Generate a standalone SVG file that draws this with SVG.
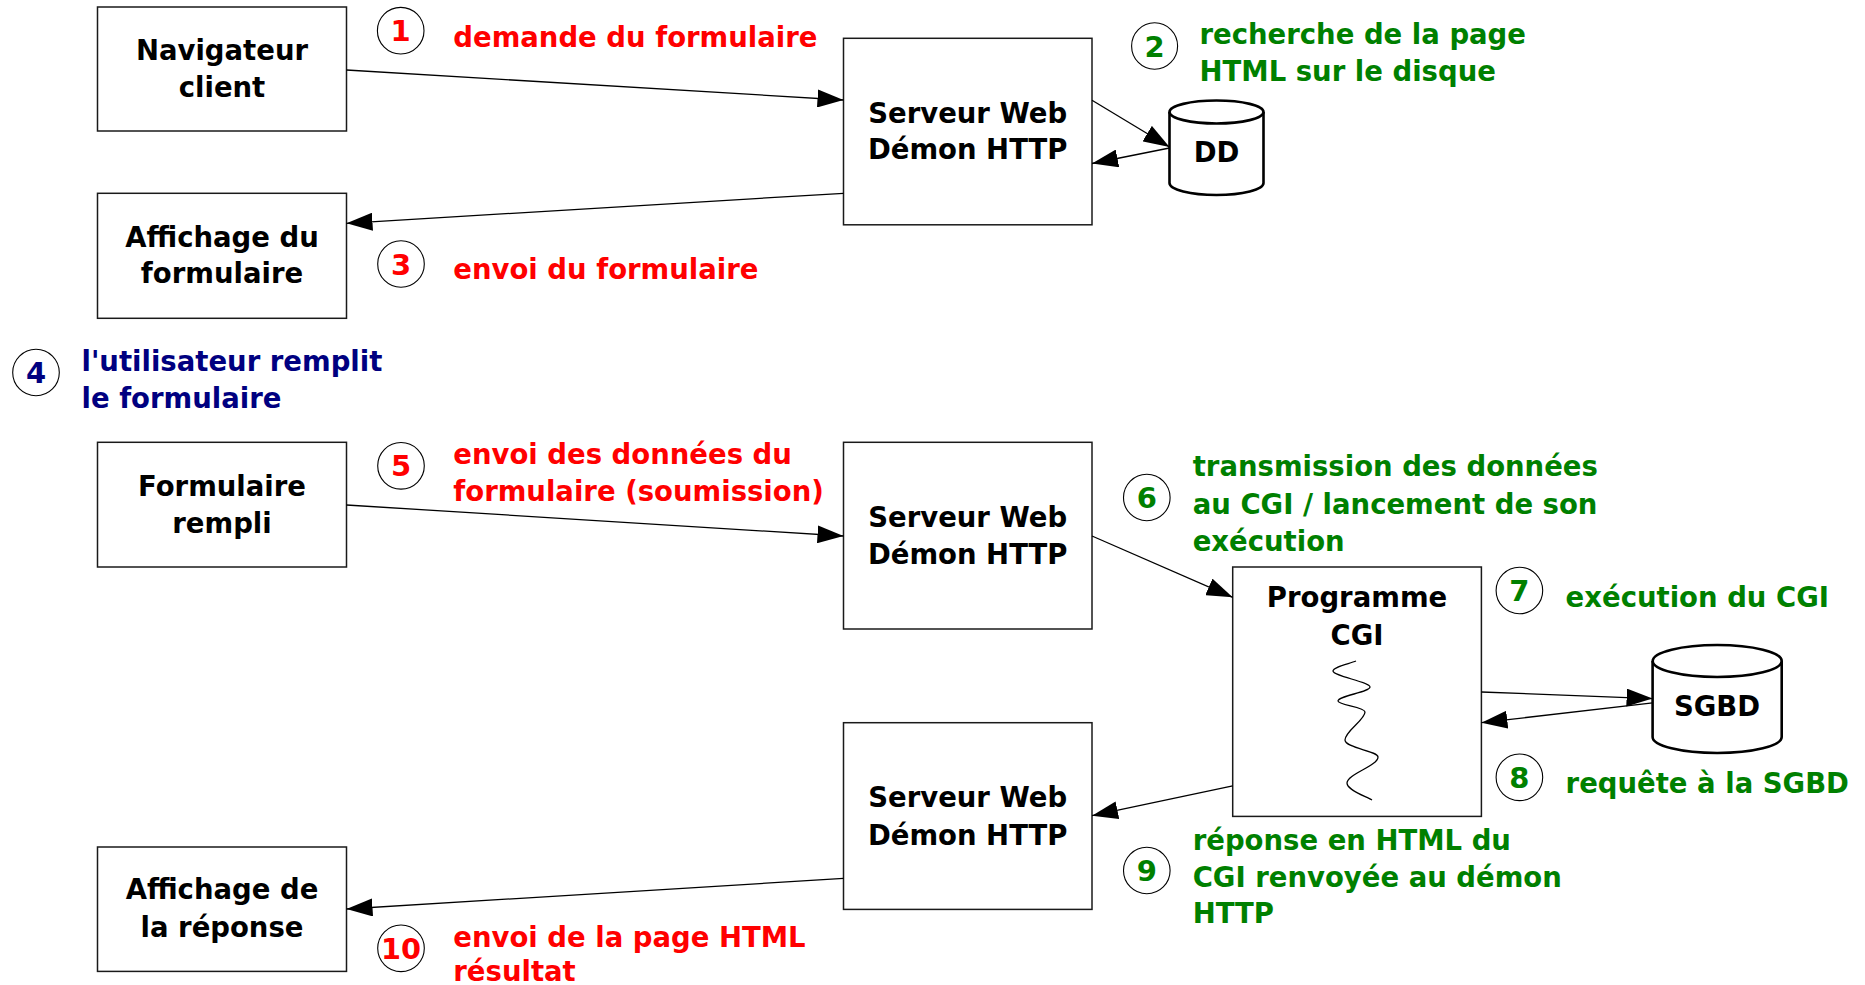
<svg xmlns="http://www.w3.org/2000/svg" width="1865" height="985" viewBox="0 0 1865 985">
<defs>
<style>
text{font-family:"DejaVu Sans","Verdana","Noto Sans",sans-serif;font-weight:bold;font-size:27.5px}
.nt{fill:#000;text-anchor:middle}
.box{fill:#fff;stroke:#1a1a1a;stroke-width:1.5}
.cyl{fill:#fff;stroke:#000;stroke-width:2.6}
.num{fill:none;stroke:#000;stroke-width:1.1}
.r{fill:#ff0000}
.g{fill:#008000}
.b{fill:#000080}
.cn{text-anchor:middle;font-size:29px}
.con line{stroke:#000;stroke-width:1.3;marker-end:url(#ah)}
</style>
<marker id="ah" viewBox="0 0 26 18" refX="26" refY="9" markerWidth="26" markerHeight="18" markerUnits="userSpaceOnUse" orient="auto">
<path d="M0,0 L26,9 L0,18 z" fill="#000"/>
</marker>
</defs>
<rect width="1865" height="985" fill="#fff"/>

<g id="nav"><rect class="box" x="97.5" y="7" width="249" height="124"/>
<text class="nt" x="222" y="60">Navigateur</text><text class="nt" x="222" y="96.7">client</text></g>

<g id="aff1"><rect class="box" x="97.5" y="193.3" width="249" height="125"/>
<text class="nt" x="222" y="246.7">Affichage du</text><text class="nt" x="222" y="283.3">formulaire</text></g>

<g id="srv1"><rect class="box" x="843.5" y="38.3" width="248.5" height="186.5"/>
<text class="nt" x="967.7" y="123.3">Serveur Web</text><text class="nt" x="967.7" y="159.3">Démon HTTP</text></g>

<g id="dd">
<path class="cyl" d="M1169.5,112 L1169.5,183 A47,12 0 0 0 1263.5,183 L1263.5,112"/>
<ellipse class="cyl" cx="1216.5" cy="112" rx="47" ry="11.5"/>
<text class="nt" x="1216.5" y="161.7">DD</text></g>

<g id="form"><rect class="box" x="97.5" y="442.3" width="249" height="124.7"/>
<text class="nt" x="222" y="495.7">Formulaire</text><text class="nt" x="222" y="532.8">rempli</text></g>

<g id="srv2"><rect class="box" x="843.5" y="442.3" width="248.5" height="186.7"/>
<text class="nt" x="967.7" y="527">Serveur Web</text><text class="nt" x="967.7" y="563.7">Démon HTTP</text></g>

<g id="cgi"><rect class="box" x="1232.7" y="567" width="248.7" height="249.4"/>
<text class="nt" x="1357" y="607.4">Programme</text><text class="nt" x="1357" y="645.2">CGI</text>
<path d="M1356,661 C1348,664 1333,667 1333,671 C1333,676 1370,682 1370,687 C1370,692 1338,696 1338,701 C1338,705 1365,707 1365,712 C1365,720 1345,731 1345,740 C1345,748 1378,751 1378,757 C1378,766 1347,774 1347,783 C1347,790 1365,796 1372,800" fill="none" stroke="#000" stroke-width="1.3"/></g>

<g id="sgbd">
<path class="cyl" d="M1652.6,661 L1652.6,737 A64.5,16 0 0 0 1781.7,737 L1781.7,661"/>
<ellipse class="cyl" cx="1717.2" cy="661" rx="64.5" ry="16"/>
<text class="nt" x="1717" y="715.5">SGBD</text></g>

<g id="srv3"><rect class="box" x="843.5" y="722.7" width="248.5" height="186.7"/>
<text class="nt" x="967.7" y="807.4">Serveur Web</text><text class="nt" x="967.7" y="844.5">Démon HTTP</text></g>

<g id="aff2"><rect class="box" x="97.5" y="847" width="249" height="124.4"/>
<text class="nt" x="222" y="899.3">Affichage de</text><text class="nt" x="222" y="937">la réponse</text></g>

<g id="connectors" class="con">
<line x1="346.5" y1="70" x2="843.5" y2="100"/>
<line x1="843.5" y1="193.3" x2="346.5" y2="223.3"/>
<line x1="1092" y1="100.3" x2="1169.5" y2="147"/>
<line x1="1169.5" y1="148" x2="1092" y2="163.5"/>
<line x1="346.5" y1="505" x2="843.5" y2="536"/>
<line x1="1092" y1="536" x2="1232.7" y2="597.3"/>
<line x1="1481.4" y1="692" x2="1652.6" y2="698.6"/>
<line x1="1652.6" y1="702.9" x2="1481.4" y2="722.7"/>
<line x1="1232.7" y1="785.8" x2="1092" y2="815.7"/>
<line x1="843.5" y1="878.4" x2="346.5" y2="909"/>
</g>

<g id="step1"><circle class="num" cx="400.7" cy="30.7" r="23.3"/><text class="r cn" x="400.7" y="41.2">1</text>
<text class="r" x="453.3" y="46.7">demande du formulaire</text></g>

<g id="step2"><ellipse class="num" cx="1154.6" cy="46" rx="23" ry="23.3"/><text class="g cn" x="1154.6" y="56.5">2</text>
<text class="g" x="1199.5" y="44">recherche de la page</text><text class="g" x="1199.5" y="81">HTML sur le disque</text></g>

<g id="step3"><circle class="num" cx="401" cy="264" r="23.3"/><text class="r cn" x="401" y="274.5">3</text>
<text class="r" x="453.3" y="279.3">envoi du formulaire</text></g>

<g id="step4"><circle class="num" cx="36" cy="372.5" r="23.3"/><text class="b cn" x="36" y="383">4</text>
<text class="b" x="81.5" y="371">l'utilisateur remplit</text><text class="b" x="81.5" y="407.7">le formulaire</text></g>

<g id="step5"><circle class="num" cx="401" cy="465.8" r="23.3"/><text class="r cn" x="401" y="476.3">5</text>
<text class="r" x="453.3" y="464">envoi des données du</text><text class="r" x="453.3" y="501">formulaire (soumission)</text></g>

<g id="step6"><circle class="num" cx="1146.8" cy="497.5" r="23.3"/><text class="g cn" x="1146.8" y="508">6</text>
<text class="g" x="1192.7" y="476">transmission des données</text><text class="g" x="1192.7" y="513.5">au CGI / lancement de son</text><text class="g" x="1192.7" y="550.5">exécution</text></g>

<g id="step7"><circle class="num" cx="1519.4" cy="590.5" r="23.3"/><text class="g cn" x="1519.4" y="601">7</text>
<text class="g" x="1565.6" y="606.7">exécution du CGI</text></g>

<g id="step8"><circle class="num" cx="1519.4" cy="777.3" r="23.3"/><text class="g cn" x="1519.4" y="787.8">8</text>
<text class="g" x="1565.6" y="793">requête à la SGBD</text></g>

<g id="step9"><circle class="num" cx="1146.8" cy="870.5" r="23.3"/><text class="g cn" x="1146.8" y="881">9</text>
<text class="g" x="1192.7" y="849.5">réponse en HTML du</text><text class="g" x="1192.7" y="886.5">CGI renvoyée au démon</text><text class="g" x="1192.7" y="923">HTTP</text></g>

<g id="step10"><circle class="num" cx="401" cy="948.3" r="23.3"/><text class="r cn" x="401" y="958.8" textLength="40" lengthAdjust="spacingAndGlyphs">10</text>
<text class="r" x="453.3" y="946.8">envoi de la page HTML</text><text class="r" x="453.3" y="981">résultat</text></g>
</svg>
